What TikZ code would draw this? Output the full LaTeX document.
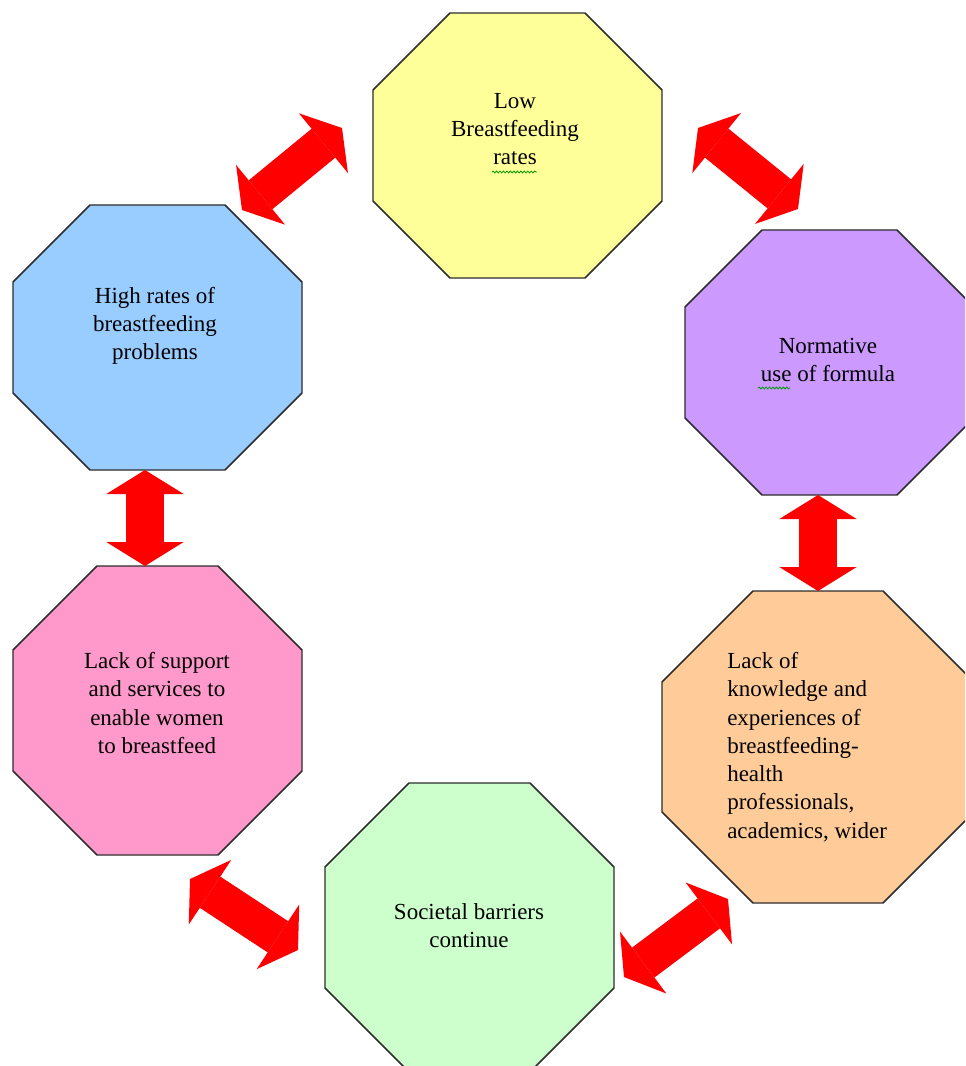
\documentclass[tikz,border=0pt]{standalone}
\usepackage{fontspec}
\setmainfont{Liberation Serif}
\usetikzlibrary{arrows.meta, decorations.pathmorphing}
\definecolor{LowYellow}{RGB}{255,255,153}
\definecolor{ProbBlue}{RGB}{153,204,255}
\definecolor{FormPurple}{RGB}{204,153,255}
\definecolor{KnowOrange}{RGB}{255,204,153}
\definecolor{BarrGreen}{RGB}{204,255,204}
\definecolor{SuppPink}{RGB}{255,153,204}
\definecolor{CycleRed}{RGB}{255,0,0}
\definecolor{EdgeGray}{RGB}{45,45,45}

\begin{document}
\begin{tikzpicture}[
    x=0.75pt, y=-0.75pt,
    oct/.style={draw=EdgeGray, line width=1.1pt},
    lbl/.style={font=\fontsize{17.25}{21.2}\selectfont, align=center, inner sep=0pt, anchor=north},
    dbl/.style={{Triangle[width=58pt, length=18pt, line width=0pt]}-{Triangle[width=58pt, length=18pt, line width=0pt]},
                line width=28pt, CycleRed},
    spell/.style={green!60!black, line width=0.6pt, decorate, decoration={snake, amplitude=0.7pt, segment length=2.6pt}},
]
\useasboundingbox (0,0) rectangle (965,1066);
\clip (0,0) rectangle (965,1066);

% ============ top: low rates ============
\begin{scope}[shift={(373,13)}]
    \filldraw[oct, fill=LowYellow] (77,0) -- (212,0) -- (289,77) -- (289,188) -- (212,265) -- (77,265) -- (0,188) -- (0,77) -- cycle;
    \node[lbl] (low) at (142,80) {Low\\Breastfeeding\\rates};
    \draw[spell] (119,159) -- (164,159);
    \coordinate (low-w) at (-31,115);
    \coordinate (low-e) at (325,115);
\end{scope}

% ============ left: problems ============
\begin{scope}[shift={(13,205)}]
    \filldraw[oct, fill=ProbBlue] (77,0) -- (212,0) -- (289,77) -- (289,188) -- (212,265) -- (77,265) -- (0,188) -- (0,77) -- cycle;
    \node[lbl] (prob) at (142,82) {High rates of\\breastfeeding\\problems};
    \coordinate (prob-n) at (229,5);
    \coordinate (prob-s) at (132,265);
\end{scope}

% ============ right: formula ============
\begin{scope}[shift={(685,230)}]
    \filldraw[oct, fill=FormPurple] (77,0) -- (212,0) -- (289,77) -- (289,188) -- (212,265) -- (77,265) -- (0,188) -- (0,77) -- cycle;
    \node[lbl] (form) at (143,108) {Normative\\use of formula};
    \draw[spell] (73,158) -- (105,158);
    \coordinate (form-n) at (113,-21);
    \coordinate (form-s) at (133,265);
\end{scope}

% ============ right: knowledge ============
\begin{scope}[shift={(662,591)}]
    \filldraw[oct, fill=KnowOrange] (91,0) -- (221,0) -- (312,91) -- (312,221) -- (221,312) -- (91,312) -- (0,221) -- (0,91) -- cycle;
    \node[lbl, align=left, anchor=north west] (know) at (65,61)
        {Lack of\\knowledge and\\experiences of\\breastfeeding-\\health\\professionals,\\academics, wider};
    \coordinate (know-n) at (156,0);
    \coordinate (know-sw) at (66,308);
\end{scope}

% ============ bottom: barriers ============
\begin{scope}[shift={(325,783)}]
    \filldraw[oct, fill=BarrGreen] (84,0) -- (205,0) -- (289,84) -- (289,205) -- (205,289) -- (84,289) -- (0,205) -- (0,84) -- cycle;
    \node[lbl] (barr) at (144,120) {Societal barriers\\continue};
    \coordinate (barr-e) at (299,194);
    \coordinate (barr-w) at (-27,167);
\end{scope}

% ============ left: support ============
\begin{scope}[shift={(13,566)}]
    \filldraw[oct, fill=SuppPink] (84,0) -- (205,0) -- (289,84) -- (289,205) -- (205,289) -- (84,289) -- (0,205) -- (0,84) -- cycle;
    \node[lbl] (supp) at (144,86) {Lack of support\\and services to\\enable women\\to breastfeed};
    \coordinate (supp-n) at (132,0);
    \coordinate (supp-se) at (177,313);
\end{scope}

% double arrows round the cycle
\draw[dbl] (prob-n) -- (low-w);
\draw[dbl] (low-e) -- (form-n);
\draw[dbl] (form-s) -- (know-n);
\draw[dbl] (know-sw) -- (barr-e);
\draw[dbl] (barr-w) -- (supp-se);
\draw[dbl] (supp-n) -- (prob-s);

\end{tikzpicture}
\end{document}
